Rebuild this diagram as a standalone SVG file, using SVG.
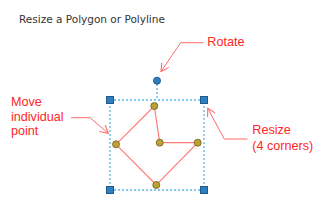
<svg xmlns="http://www.w3.org/2000/svg" width="319" height="200" viewBox="0 0 319 200">
  <defs>
    <style>
      .title { font-family: "DejaVu Sans", Verdana, sans-serif; font-size: 10.5px; fill: #333333; }
      .label { font-family: "Liberation Sans", Arial, sans-serif; font-size: 12.6px; fill: #ff2626; }
      .callout { fill: none; stroke: #ff6b6b; stroke-width: 1; }
      .bbox { fill: none; stroke: #5cb5ea; stroke-width: 1.3; stroke-dasharray: 2 2; }
      .poly { fill: none; stroke: #ff7b7b; stroke-width: 1.2; }
      .handle { fill: #2f7ec0; stroke: #1e5a8e; stroke-width: 1; }
      .vertex { fill: #bba233; stroke: #6e5c1e; stroke-width: 0.8; }
    </style>
    <marker id="open" viewBox="0 0 10 10" refX="9" refY="5" markerWidth="9" markerHeight="9" markerUnits="userSpaceOnUse" orient="auto">
      <path d="M0,0 L9,5 L0,10" fill="none" stroke="#ff6b6b" stroke-width="1.2"/>
    </marker>
  </defs>
  <rect width="319" height="200" fill="#ffffff"/>

  <text class="title" x="19" y="23">Resize a Polygon or Polyline</text>

  <g id="selection">
    <rect class="bbox" x="110" y="100" width="94" height="90"/>
    <line class="bbox" x1="157" y1="84" x2="157" y2="100"/>
  </g>

  <g id="shape">
    <polyline class="poly" points="116,144.3 154.3,106 159.7,142.7 197.7,142.7 156.3,185 116,144.3"/>
  </g>

  <g id="handles">
    <rect class="handle" x="106.5" y="96.5" width="7" height="7"/>
    <rect class="handle" x="200.5" y="96.5" width="7" height="7"/>
    <rect class="handle" x="106.5" y="186.5" width="7" height="7"/>
    <rect class="handle" x="200.5" y="186.5" width="7" height="7"/>
    <circle class="handle" cx="157" cy="80.7" r="3.5"/>
  </g>

  <g id="vertices">
    <circle class="vertex" cx="154.3" cy="106" r="3.5"/>
    <circle class="vertex" cx="116" cy="144.3" r="3.5"/>
    <circle class="vertex" cx="159.7" cy="142.7" r="3.5"/>
    <circle class="vertex" cx="197.7" cy="142.7" r="3.5"/>
    <circle class="vertex" cx="156.3" cy="185" r="3.5"/>
  </g>

  <g id="connectors">
    <polyline class="callout" points="203.5,42.7 180.7,42.7 161,71.5" marker-end="url(#open)"/>
    <polyline class="callout" points="71,117.7 90,117.7 108.3,133.3" marker-end="url(#open)"/>
    <polyline class="callout" points="247.5,139 224.3,139 207.7,108.3" marker-end="url(#open)"/>
  </g>

  <g id="label-rotate">
    <text class="label" x="207.3" y="46">Rotate</text>
  </g>
  <g id="label-move">
    <text class="label" x="11" y="106">Move</text>
    <text class="label" x="11" y="120.5">individual</text>
    <text class="label" x="11" y="135">point</text>
  </g>
  <g id="label-resize">
    <text class="label" x="252.3" y="134.3">Resize</text>
    <text class="label" x="252.3" y="150">(4 corners)</text>
  </g>
</svg>
